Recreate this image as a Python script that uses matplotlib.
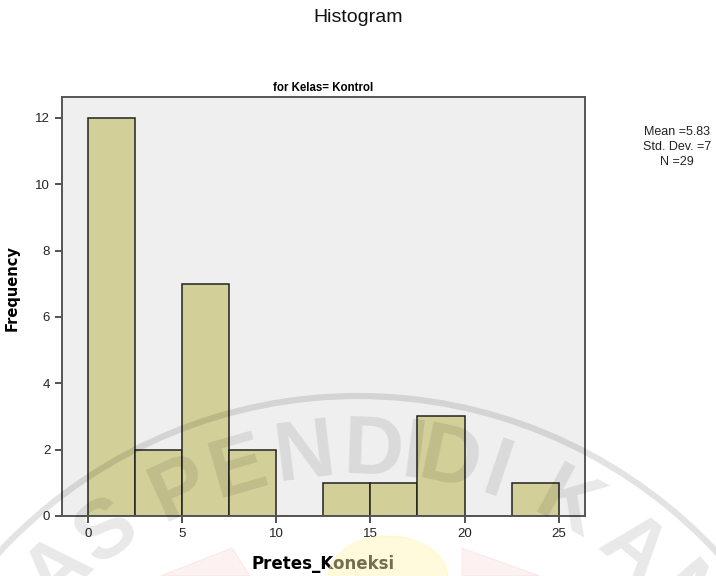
import matplotlib
matplotlib.use('Agg')
from matplotlib import pyplot as plt
from matplotlib.patches import Circle, Ellipse, Polygon
import numpy as np

# histogram of Pretes_Koneksi for the control class
bin_edges = [0, 2.5, 5, 7.5, 10, 12.5, 15, 17.5, 20, 22.5, 25]
frequency = [12, 2, 7, 2, 0, 1, 1, 3, 0, 1]
x_ticks = [0, 5, 10, 15, 20, 25]
y_ticks = [0, 2, 4, 6, 8, 10, 12]
stats_text = ['Mean =5.83', 'Std. Dev. =7', 'N =29']

plt.rcParams['font.family'] = ['Liberation Sans', 'DejaVu Sans']

fig = plt.figure(figsize=(7.16, 5.76), dpi=100)
ax = fig.add_axes([62 / 716, 60 / 576, 523 / 716, 419 / 576])
ax.set_facecolor('#efefef')

widths = np.diff(bin_edges)
ax.bar(bin_edges[:-1], frequency, width=widths, align='edge',
       color='#d3cf99', edgecolor='#222222', linewidth=1.1, zorder=2)

ax.set_xlim(-1.38, 26.4)
ax.set_ylim(0, 12.63)
ax.set_xticks(x_ticks)
ax.set_yticks(y_ticks)
ax.tick_params(axis='both', direction='out', length=5, width=1.2,
               color='#333333', labelsize=9.5, labelcolor='#222222')
for s in ax.spines.values():
    s.set_color('#555555')
    s.set_linewidth(1.4)

ax.set_xlabel('Pretes_Koneksi', fontsize=12, fontweight='bold',
              family='DejaVu Sans', labelpad=11)
ax.set_ylabel('Frequency', fontsize=10.5, fontweight='bold',
              family='DejaVu Sans')
ax.yaxis.set_label_coords(-42 / 523, 0.545)
ax.set_title('for Kelas= Kontrol', fontsize=8.3, fontweight='bold', pad=4)

fig.text(0.5, 1 - 18 / 576, 'Histogram', ha='center', va='center',
         fontsize=14, color='#111111')
for i, line in enumerate(stats_text):
    fig.text(677 / 716, 1 - (132 + 15 * i) / 576, line, ha='center',
             va='center', fontsize=9, color='#222222')

# faint university watermark over everything (pixel coords, y down)
wm = fig.add_axes([0, 0, 1, 1], zorder=10)
wm.set_xlim(0, 716)
wm.set_ylim(576, 0)
wm.axis('off')
wm.patch.set_alpha(0)

cx, cy, r_ring, r_text = 358, 886, 490, 442
wm.add_patch(Circle((cx, cy), r_ring, fill=False, edgecolor='black',
                    linewidth=4.5, alpha=0.11))
wm.add_patch(Ellipse((388, 578), 120, 84, color='#fff6b0', alpha=0.45,
                     zorder=0))
wm.add_patch(Polygon([[160, 576], [232, 548], [250, 576]], color='#e03030',
                     alpha=0.06))
wm.add_patch(Polygon([[462, 548], [540, 576], [462, 576]], color='#e03030',
                     alpha=0.06))

letters = 'AS PENDIDIKAN'
angles = [-43.5, -35.3, None, -24.3, -16.1, -7.0, 2.0, 7.3, 12.2,
          18.6, 28.9, 39.3, 49.0]
wm_size = 60
cap = 0.716 * wm_size * 100 / 72
for ch, a in zip(letters, angles):
    if a is None:
        continue
    t = np.radians(a)
    # anchor each letter on its baseline, half a cap height inside the arc
    x = cx + (r_text - cap / 2) * np.sin(t)
    y = cy - (r_text - cap / 2) * np.cos(t)
    wm.text(x, y, ch, rotation=-a, ha='center', va='baseline',
            rotation_mode='anchor', fontsize=wm_size, fontweight='bold',
            family='Liberation Sans', color='black', alpha=0.09)

plt.savefig('out.png', dpi=100)
